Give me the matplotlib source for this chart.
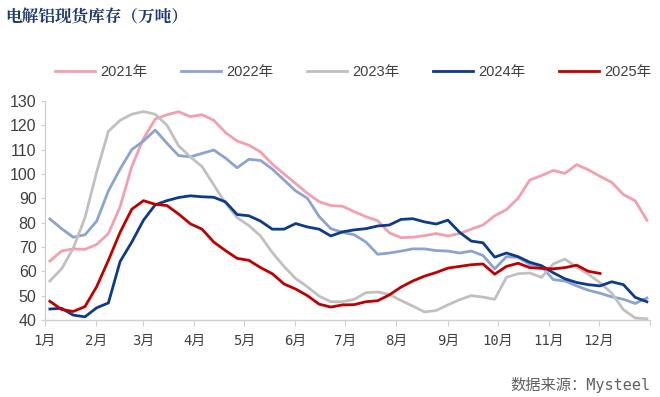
import numpy as np
import matplotlib
matplotlib.use('Agg')
import matplotlib.pyplot as plt

# weekly spot inventory of electrolytic aluminium, 10k tonnes
inv2021 = [64.2, 68.3, 69.2, 69, 71, 75.5, 86.5, 103, 114.5, 122.5, 124.3, 125.5, 123.5,
           124.3, 122, 117, 113.5, 111.8, 109, 104, 100, 96, 92, 88.6, 87, 86.7, 84.5,
           82.4, 80.8, 75.8, 73.8, 74, 74.6, 75.5, 74.5, 75.5, 77.3, 79, 82.8, 85.3, 90,
           97.5, 99.3, 101.4, 100.2, 103.8, 101.7, 99, 96.5, 91.5, 89, 81]
inv2022 = [81.5, 77.5, 74, 75, 80.6, 93, 102, 110, 113.5, 118, 112.6, 107.5, 107, 108.4,
           109.8, 106.5, 102.5, 106, 105.5, 102, 97.5, 93, 90, 82.5, 77.5, 76, 75, 72,
           67, 67.5, 68.3, 69.2, 69.2, 68.5, 68.3, 67.5, 68.3, 66.5, 61, 66, 65.7, 62.8,
           62, 56.6, 56, 54, 52.2, 51, 49.5, 48.5, 46.8, 49]
inv2023 = [56, 61, 69.5, 82, 100.8, 117.5, 122, 124.5, 125.6, 124.5, 120, 111.5, 107, 103,
           95.5, 88, 82, 78.8, 74.5, 67.7, 62, 57, 53.6, 49.8, 47.5, 47.5, 48.5, 51.2,
           51.5, 50.5, 48, 45.7, 43.3, 43.9, 46.2, 48.3, 50, 49.4, 48.5, 57.5, 59, 59.3,
           57.5, 63, 65, 61.7, 58.8, 55.3, 51, 44.2, 40.8, 40.5]
inv2024 = [44.5, 44.8, 42, 41.3, 45, 47, 64, 72, 81, 87.3, 89, 90.3, 91, 90.6, 90.4, 88.5,
           83.3, 82.8, 80.6, 77.3, 77.3, 79.6, 78.2, 77.3, 74.5, 76.2, 77, 77.5, 78.6, 79,
           81.3, 81.6, 80.3, 79.4, 81, 76, 72.4, 71.7, 65.8, 67.5, 66, 63.7, 62.3, 59.4,
           56.9, 55.4, 54.5, 54, 55.7, 54.5, 49.3, 47.5]
inv2025 = [47.7, 44.3, 43.5, 45.5, 53.7, 64.5, 76, 85.5, 89, 87.5, 87, 83.5, 79.5, 77.3, 72,
           68.5, 65.3, 64.5, 61.5, 59, 54.8, 52.7, 50, 46.5, 45.3, 46.2, 46.3, 47.5, 47.9,
           50.3, 53.5, 56, 58, 59.5, 61.3, 62, 62.7, 63, 58.8, 62, 63.3, 61.5, 61.2, 61,
           61.5, 62.5, 60, 59.1]

series = [inv2021, inv2022, inv2023, inv2024, inv2025]
names = ['2021年', '2022年', '2023年', '2024年', '2025年']
colors = ['#F29FAE', '#8CA3D0', '#C0C0C0', '#0E3A8A', '#C00000']

months = ['1月', '2月', '3月', '4月', '5月', '6月', '7月', '8月', '9月', '10月', '11月', '12月']
month_start = [0, 31, 59, 90, 120, 151, 181, 212, 243, 273, 304, 334, 365]

cjk = ['Liberation Sans', 'Noto Sans CJK SC']
mono = ['DejaVu Sans Mono', 'Noto Sans CJK SC']

fig = plt.figure(figsize=(6.6, 3.97), dpi=100)
ax = fig.add_axes([0.068, 0.194, 0.917, 0.552])

for vals, name, c in zip(series, names, colors):
    days = 3 + 7.06 * np.arange(len(vals))
    ax.plot(days, vals, color=c, lw=2.0, label=name, solid_joinstyle='round')

ax.set_xlim(0, 365)
ax.set_ylim(40, 130)
ax.set_yticks(range(40, 131, 10))
ax.set_xticks(month_start)
ax.set_xticklabels(months + [''], family=mono, fontsize=10, color='#404040')
for lab in ax.get_yticklabels():
    lab.set_family('Liberation Sans')
    lab.set_fontsize(11.5)
    lab.set_color('#404040')

for s in ['top', 'right']:
    ax.spines[s].set_visible(False)
for s in ['left', 'bottom']:
    ax.spines[s].set_color('#D0D0D0')
    ax.spines[s].set_linewidth(1.0)
ax.tick_params(axis='x', length=4, color='#D0D0D0', pad=6)
ax.tick_params(axis='y', length=3, color='#D0D0D0', pad=3)

leg = ax.legend(loc='lower center', bbox_to_anchor=(0.51, 1.04), ncol=5, frameon=False,
                prop={'family': cjk, 'size': 10.5}, handlelength=2.7, columnspacing=2.3,
                handletextpad=0.4)
for t in leg.get_texts():
    t.set_color('#404040')

fig.text(0.008, 0.955, '电解铝现货库存（万吨）', family=['Noto Serif CJK SC', 'Noto Sans CJK SC'],
         fontsize=12, fontweight='bold', color='#1F3A6E', va='center', ha='left')
fig.text(0.985, 0.03, '数据来源：Mysteel', family=mono, fontsize=11, color='#606060',
         ha='right', va='center')

fig.savefig('out.png', dpi=100, facecolor='white')
